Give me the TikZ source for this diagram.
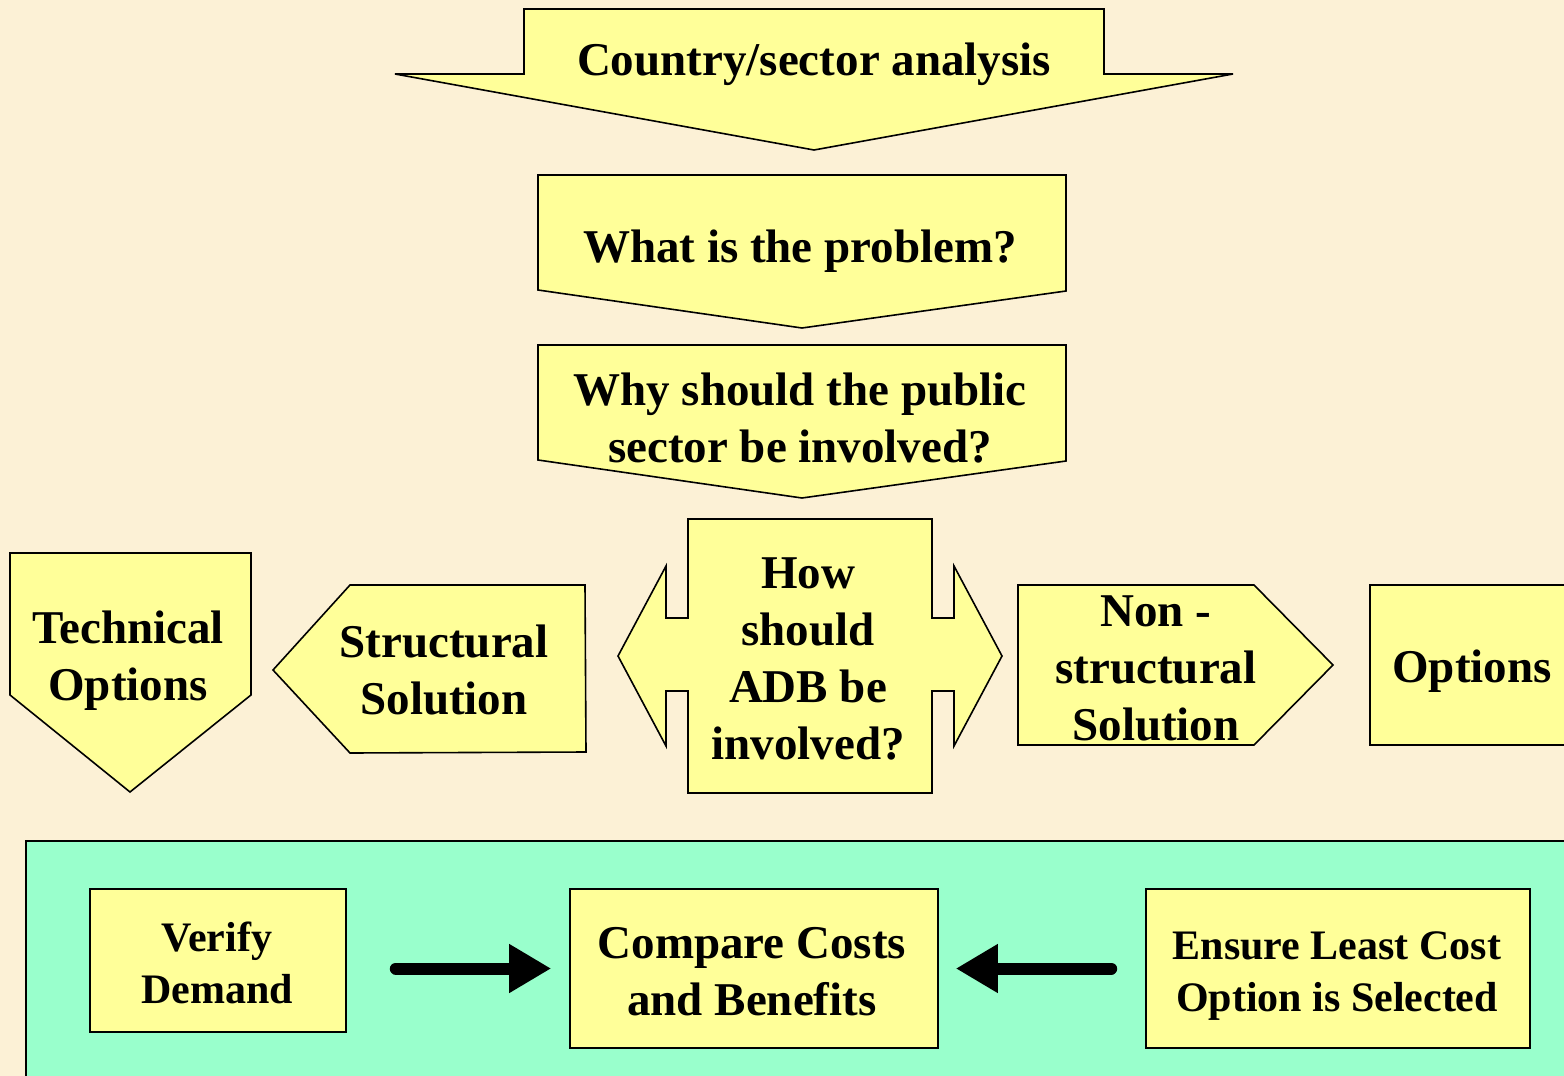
\documentclass[tikz,border=0pt]{standalone}
\usepackage{fontspec}
\setmainfont{Liberation Serif}
\usetikzlibrary{arrows.meta}
\definecolor{bgc}{HTML}{FCF1D6}
\definecolor{yel}{HTML}{FFFF99}
\definecolor{grn}{HTML}{99FFCC}
\tikzset{
  shp/.style={draw=black, fill=yel, line width=1.6pt, line join=miter},
  big/.style={font=\fontsize{47}{57}\selectfont\bfseries, align=center, inner sep=0pt, text depth=4.5pt},
  sml/.style={font=\fontsize{42}{52}\selectfont\bfseries, align=center, inner sep=0pt, text depth=6.25pt},
  lone/.style={text height=35.5pt},
  ltwo/.style={text height=92.5pt},
  lthree/.style={text height=149.5pt},
  lfour/.style={text height=206.5pt},
  stwo/.style={text height=85.75pt},
  box/.style={draw=black, fill=yel, line width=1.6pt, inner sep=0pt},
  arr/.style={line width=12pt, line cap=round, -{Triangle[length=42pt,width=46pt]}},
}
\begin{document}
\begin{tikzpicture}[x=1pt,y=-1pt]
\fill[bgc] (0,0) rectangle (1564,1076);
\useasboundingbox (0,0) rectangle (1564,1076);

% top arrow
\draw[shp] (524,9) -- (1104,9) -- (1104,74) -- (1233,74) -- (814,150) -- (395,74) -- (524,74) -- cycle;
\node[big, lone] (country) at (814,60) {Country/sector analysis};

% problem
\draw[shp] (538,175) -- (1066,175) -- (1066,291) -- (802,328) -- (538,290) -- cycle;
\node[big, lone] (problem) at (800,247) {What is the problem?};

% public sector
\draw[shp] (538,345) -- (1066,345) -- (1066,461) -- (802,498) -- (538,460) -- cycle;
\node[big, ltwo] (public) at (800,418.5) {Why should the public\\sector be involved?};

% technical options
\draw[shp] (10,553) -- (251,553) -- (251,695) -- (130,792) -- (10,695) -- cycle;
\node[big, ltwo] (technical) at (128,656) {Technical\\Options};

% structural solution
\draw[shp] (350,585) -- (585,585) -- (586,752) -- (350,753) -- (273,670) -- cycle;
\node[big, ltwo] (structural) at (444,670.5) {Structural\\Solution};

% how should ADB
\draw[shp] (688,519) -- (932,519) -- (932,618) -- (954,618) -- (954,566) -- (1002,656) -- (954,746) -- (954,691) -- (932,691) -- (932,793) -- (688,793) -- (688,691) -- (666,691) -- (666,746) -- (618,656) -- (666,566) -- (666,618) -- (688,618) -- cycle;
\node[big, lfour] (how) at (808,658) {How\\should\\ADB be\\involved?};

% non-structural
\draw[shp] (1018,585) -- (1254,585) -- (1333,665) -- (1254,745) -- (1018,745) -- cycle;
\node[big, lthree] (nonstruct) at (1156,667.5) {Non -\\structural\\Solution};

% options
\draw[shp] (1370,585) rectangle (1580,745);
\node[big, lone] (options) at (1472,667) {Options};

% bottom panel
\draw[fill=grn, line width=1.6pt] (26,841) rectangle (1590,1100);

\node[box, minimum width=256pt, minimum height=143pt] (verify) at (218,960.5) {};
\node[sml, stwo] (verifyt) at (217,964) {Verify\\Demand};

\node[box, minimum width=368pt, minimum height=159pt] (compare) at (754,968.5) {};
\node[big, ltwo] (comparet) at (752,971.5) {Compare Costs\\and Benefits};

\node[box, minimum width=384pt, minimum height=159pt] (ensure) at (1338,968.5) {};
\node[sml, stwo] (ensuret) at (1337,972) {Ensure Least Cost\\Option is Selected};

\draw[arr, shorten <=49pt, shorten >=18pt] (verify.east |- compare.west) -- (compare.west);
\draw[arr, shorten <=34pt, shorten >=17pt] (ensure.west) -- (compare.east |- ensure.west);
\end{tikzpicture}
\end{document}
